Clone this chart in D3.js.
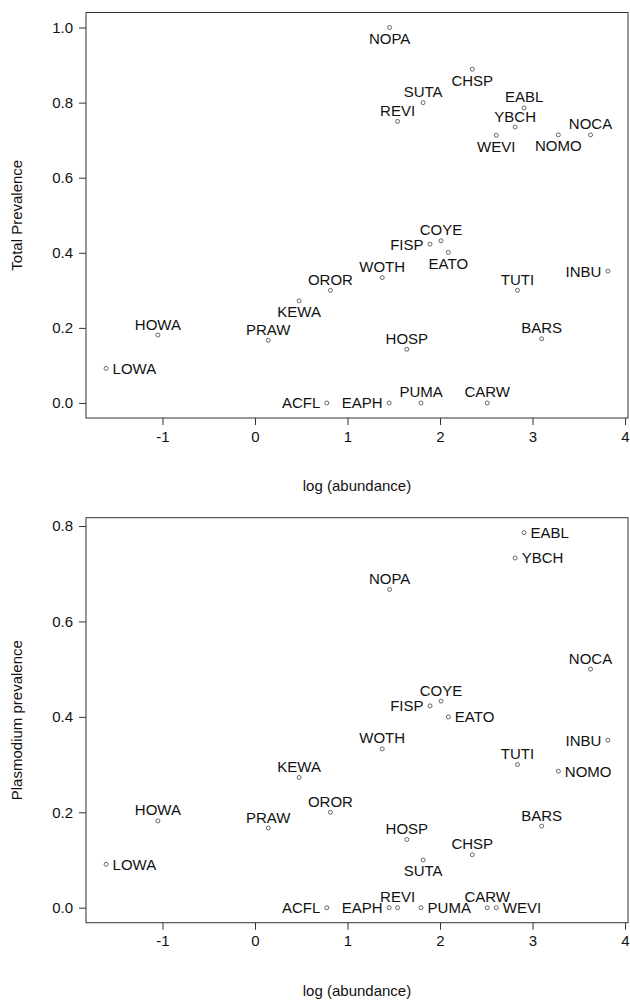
<!DOCTYPE html>
<meta charset="utf-8">

<!-- Load d3.js -->
<script src="https://d3js.org/d3.v7.min.js"></script>
<style>
    body { margin: 0; background: #fff; }
    text { font-family: Arial, "Liberation Sans", sans-serif; font-size: 15px; fill: #111; }
</style>

<div id="plot_div"></div>
<script>
    // species codes and their values
    var species = ["LOWA", "HOWA", "PRAW", "KEWA", "ACFL", "OROR", "WOTH", "EAPH", "NOPA", "REVI", "HOSP", "PUMA", "SUTA",
        "FISP", "COYE", "EATO", "CHSP", "CARW", "WEVI", "YBCH", "TUTI", "EABL", "BARS", "NOMO", "NOCA", "INBU"];
    var logAbundance = [-1.61, -1.05, 0.143, 0.477, 0.776, 0.815, 1.375, 1.45, 1.455, 1.541, 1.641, 1.795, 1.817,
        1.892, 2.011, 2.09, 2.349, 2.51, 2.608, 2.812, 2.837, 2.909, 3.099, 3.279, 3.627, 3.815];
    var totalPrevalence = [0.092, 0.181, 0.167, 0.272, 0, 0.300, 0.334, 0, 1.0, 0.75, 0.143, 0, 0.80,
        0.423, 0.432, 0.401, 0.889, 0, 0.713, 0.735, 0.300, 0.786, 0.171, 0.714, 0.714, 0.351];
    var plasmodiumPrevalence = [0.091, 0.182, 0.167, 0.273, 0, 0.200, 0.333, 0, 0.667, 0, 0.143, 0, 0.100,
        0.423, 0.433, 0.400, 0.111, 0, 0, 0.733, 0.300, 0.786, 0.171, 0.286, 0.500, 0.351];

    var xTicks = [-1, 0, 1, 2, 3, 4];
    var yTicksTop = [0, 0.2, 0.4, 0.6, 0.8, 1.0];
    var yTicksBottom = [0, 0.2, 0.4, 0.6, 0.8];

    // which side of its point each label sits on
    var sidesTop = ["r", "a", "a", "b", "l", "a", "a", "l", "b", "a", "a", "a", "a",
        "l", "a", "b", "b", "a", "b", "a", "a", "a", "a", "b", "a", "l"];
    var sidesBottom = ["r", "a", "a", "a", "l", "a", "a", "l", "a", "a", "a", "r", "b",
        "l", "a", "r", "a", "a", "r", "r", "a", "r", "a", "r", "a", "l"];

    var width = 630, height = 1001;
    var left = 86, right = 628;

    // R style 4% padding around the data range
    function padded(values) {
        var lo = d3.min(values), hi = d3.max(values), d = (hi - lo) * 0.04;
        return [lo - d, hi + d];
    }

    var svg = d3.select("#plot_div")
        .append("svg")
        .attr("width", width)
        .attr("height", height);

    function scatter_panel(top, bottom, yValues, yTicks, yTitle, sides) {
        var x = d3.scaleLinear().domain(padded(logAbundance)).range([left, right]);
        var y = d3.scaleLinear().domain(padded(yValues)).range([bottom, top]);
        var g = svg.append("g");

        g.append("g")
            .attr("transform", "translate(0," + bottom + ")")
            .call(d3.axisBottom(x).tickValues(xTicks).tickSize(7).tickPadding(6).tickFormat(function (d) { return String(d); }))
            .call(function (a) { a.select(".domain").remove(); a.selectAll("line").attr("stroke", "#333"); a.selectAll("text").attr("font-size", 15).attr("fill", "#111").attr("font-family", null); });

        g.append("g")
            .attr("transform", "translate(" + left + ",0)")
            .call(d3.axisLeft(y).tickValues(yTicks).tickSize(7).tickPadding(6).tickFormat(d3.format(".1f")))
            .call(function (a) { a.select(".domain").remove(); a.selectAll("line").attr("stroke", "#333"); a.selectAll("text").attr("font-size", 15).attr("fill", "#111").attr("font-family", null); });

        g.append("rect")
            .attr("x", left).attr("y", top)
            .attr("width", right - left).attr("height", bottom - top)
            .attr("fill", "none").attr("stroke", "#333").attr("stroke-width", 1);

        var idx = d3.range(species.length);

        g.selectAll("circle.pt").data(idx).enter().append("circle")
            .attr("cx", function (i) { return x(logAbundance[i]); })
            .attr("cy", function (i) { return y(yValues[i]); })
            .attr("r", 2)
            .attr("fill", "none").attr("stroke", "#444").attr("stroke-width", 0.8);

        g.selectAll("text.lab").data(idx).enter().append("text")
            .attr("x", function (i) {
                var px = x(logAbundance[i]);
                if (sides[i] == "l") return px - 6.5;
                if (sides[i] == "r") return px + 6.5;
                return px;
            })
            .attr("y", function (i) {
                var py = y(yValues[i]);
                if (sides[i] == "a") return py - 5.5;
                if (sides[i] == "b") return py + 16.5;
                return py + 5.4;
            })
            .attr("text-anchor", function (i) {
                return sides[i] == "l" ? "end" : (sides[i] == "r" ? "start" : "middle");
            })
            .text(function (i) { return species[i]; });

        g.append("text")
            .attr("transform", "translate(22," + ((top + bottom) / 2) + ") rotate(-90)")
            .attr("text-anchor", "middle")
            .text(yTitle);

        g.append("text")
            .attr("x", (left + right) / 2)
            .attr("y", bottom + 73)
            .attr("text-anchor", "middle")
            .text("log (abundance)");
    }

    scatter_panel(12.5, 418, totalPrevalence, yTicksTop, "Total Prevalence", sidesTop);
    scatter_panel(517.7, 922.7, plasmodiumPrevalence, yTicksBottom, "Plasmodium prevalence", sidesBottom);
</script>
